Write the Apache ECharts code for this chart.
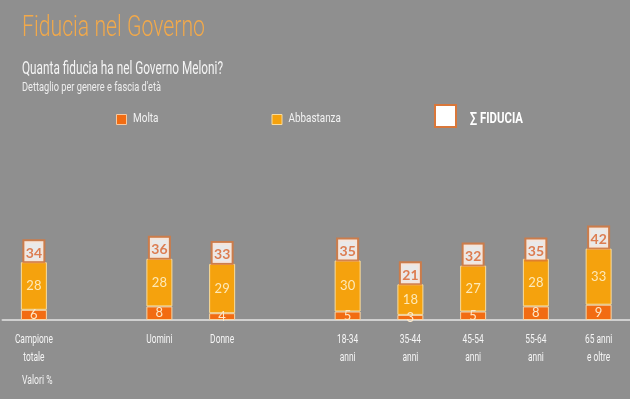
<!DOCTYPE html>
<html><head><meta charset="utf-8">
<script src="https://cdn.jsdelivr.net/npm/echarts@6/dist/echarts.min.js"></script>
<style>html,body{margin:0;padding:0;background:#8f8f8f}#c{width:630px;height:399px}</style>
</head><body><div id="c"></div>
<script>
const categories = ['Campione\ntotale', '', 'Uomini', 'Donne', '', '18-34\nanni', '35-44\nanni', '45-54\nanni', '55-64\nanni', '65 anni\ne oltre'];
const molta = [6, null, 8, 4, null, 5, 3, 5, 8, 9];
const abbastanza = [28, null, 28, 29, null, 30, 18, 27, 28, 33];
const fiducia = [34, null, 36, 33, null, 35, 21, 32, 35, 42];

const FONT = 'Roboto';
const mctx = document.createElement('canvas').getContext('2d');
function fit(text, size, weight, target) {
  mctx.font = (weight || 'normal') + ' ' + size + 'px ' + FONT;
  return target / mctx.measureText(text).width;
}
function txt(text, x, y, size, weight, fill, scale, align) {
  return {type: 'text', x: x, y: y, scaleX: scale, silent: true,
    style: {text: text, fill: fill, fontSize: size, fontFamily: FONT, fontWeight: weight,
      align: align || 'left', verticalAlign: 'middle'}};
}

const chart = echarts.init(document.getElementById('c'), null, {renderer: 'canvas'});
chart.setOption({
  backgroundColor: '#8f8f8f',
  animation: false,
  grid: {left: 2.5, right: -2.5, top: 235, height: 85, containLabel: false},
  xAxis: {
    type: 'category', data: categories,
    axisLine: {lineStyle: {color: '#cfcfcf', width: 2}},
    axisTick: {show: false},
    axisLabel: {show: false}
  },
  yAxis: {type: 'value', min: 0, max: 50, show: false, splitLine: {show: false}},
  series: [
    {name: 'Molta', type: 'bar', stack: 't', data: molta, barWidth: 26,
     itemStyle: {color: '#f26c12', borderColor: '#f7d7a8', borderWidth: 1},
     label: {show: true, position: 'inside', color: '#fde8c8', fontSize: 13, fontFamily: 'Lato, sans-serif'}},
    {name: 'Abbastanza', type: 'bar', stack: 't', data: abbastanza, barWidth: 26,
     itemStyle: {color: '#f5a20d', borderColor: '#f9dc9c', borderWidth: 1},
     label: {show: true, position: 'inside', color: '#fde9b8', fontSize: 13, fontFamily: 'Lato, sans-serif'}},
    {name: '∑ FIDUCIA', type: 'scatter', data: fiducia, symbolSize: 0,
     itemStyle: {color: '#ffffff'},
     label: {show: true, position: 'top', distance: 1, color: '#d9622a', fontSize: 14, fontWeight: 'bold',
       fontFamily: 'Lato, sans-serif', backgroundColor: '#ffffff', borderColor: '#d9773a', borderWidth: 2,
       padding: [5, 2, 1, 2], width: 15, align: 'center'}}
  ]
});

const g = [];
g.push(txt('Fiducia nel Governo', 22, 29, 29.5, 300, '#f2a94a', fit('Fiducia nel Governo', 29.5, 300, 183)));
g.push(txt('Quanta fiducia ha nel Governo Meloni?', 22, 69, 18, 'normal', '#f4f4f4', fit('Quanta fiducia ha nel Governo Meloni?', 18, 'normal', 201)));
g.push(txt("Dettaglio per genere e fascia d'età", 22, 88, 12.2, 'normal', '#eeeeee', fit("Dettaglio per genere e fascia d'età", 12.2, 'normal', 139)));
g.push(txt('Valori %', 22, 381, 12.5, 'normal', '#f2f2f2', fit('Valori %', 12.5, 'normal', 30.5)));
// legend
g.push({type: 'rect', shape: {x: 116.5, y: 114.5, width: 10, height: 10}, style: {fill: '#f26c12', stroke: '#f7c9a0', lineWidth: 1}, silent: true});
g.push(txt('Molta', 133, 119, 12.7, 'normal', '#f2f2f2', fit('Molta', 12.7, 'normal', 25.5)));
g.push({type: 'rect', shape: {x: 272, y: 114.5, width: 10, height: 10}, style: {fill: '#f5a20d', stroke: '#f9dc9c', lineWidth: 1}, silent: true});
g.push(txt('Abbastanza', 288.5, 119, 12.7, 'normal', '#f2f2f2', fit('Abbastanza', 12.7, 'normal', 52.4)));
g.push({type: 'rect', shape: {x: 435, y: 105, width: 21, height: 22}, style: {fill: '#ffffff', stroke: '#d9773a', lineWidth: 2}, silent: true});
g.push(txt('∑ FIDUCIA', 470, 119, 15.5, 'bold', '#ffffff', fit('∑ FIDUCIA', 15.5, 'bold', 53)));
// category labels
const catScale = fit('Campione', 12.8, 'normal', 38);
categories.forEach(function (c, i) {
  if (!c) return;
  const x = chart.convertToPixel({xAxisIndex: 0}, i);
  c.split('\n').forEach(function (line, k) {
    g.push(txt(line, x, 340 + k * 17.4, 12.8, 'normal', '#f5f5f5', catScale, 'center'));
  });
});
chart.setOption({graphic: g});
</script></body></html>
